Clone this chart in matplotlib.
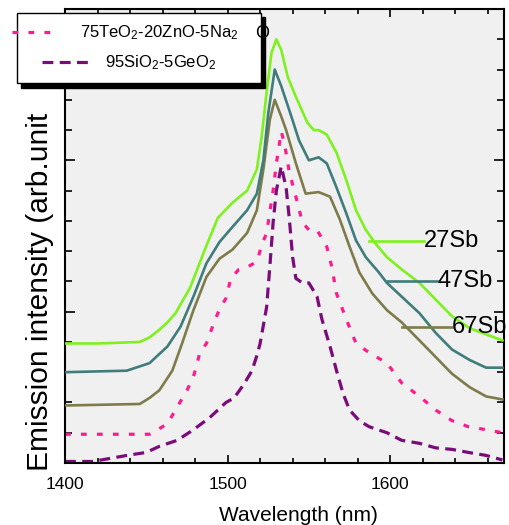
import matplotlib
matplotlib.use("Agg")
import matplotlib.pyplot as plt
from matplotlib.patches import Rectangle
from matplotlib.lines import Line2D
from matplotlib.ticker import MultipleLocator, NullFormatter

plt.rcParams['font.family'] = ['Liberation Sans', 'DejaVu Sans']
plt.rcParams['mathtext.fontset'] = 'custom'
plt.rcParams['mathtext.rm'] = 'Liberation Sans'
plt.rcParams['mathtext.it'] = 'Liberation Sans:italic'
plt.rcParams['mathtext.bf'] = 'Liberation Sans:bold'

# ---------------- data ----------------
wl_27 = [1400, 1421, 1446, 1452, 1458, 1463, 1468, 1477, 1486, 1494, 1503, 1512, 1518, 1521,
         1524, 1527, 1530, 1533, 1537, 1542, 1549, 1553, 1556, 1561, 1567, 1573, 1579, 1585,
         1591, 1598, 1607, 1618, 1628, 1638, 1649, 1659, 1669]
int_27 = [0.79, 0.79, 0.80, 0.83, 0.88, 0.93, 0.99, 1.16, 1.41, 1.62, 1.72, 1.80, 1.94, 2.16,
          2.45, 2.71, 2.80, 2.73, 2.55, 2.42, 2.25, 2.20, 2.20, 2.17, 2.05, 1.87, 1.67, 1.54,
          1.45, 1.36, 1.28, 1.19, 1.08, 0.97, 0.89, 0.85, 0.81]

wl_47 = [1400, 1438, 1452, 1463, 1471, 1479, 1487, 1495, 1503, 1512, 1518, 1522, 1525, 1529,
         1533, 1538, 1544, 1550, 1556, 1561, 1567, 1573, 1579, 1585, 1593, 1598, 1607, 1618,
         1628, 1638, 1649, 1659, 1669]
int_47 = [0.60, 0.61, 0.66, 0.77, 0.90, 1.10, 1.32, 1.46, 1.56, 1.67, 1.78, 2.00, 2.31, 2.60,
          2.49, 2.33, 2.13, 2.00, 2.02, 1.98, 1.82, 1.65, 1.47, 1.36, 1.26, 1.19, 1.10, 0.99,
          0.86, 0.75, 0.68, 0.63, 0.63]

wl_67 = [1400, 1446, 1452, 1458, 1466, 1472, 1479, 1487, 1495, 1503, 1512, 1518, 1522, 1526,
         1529, 1533, 1536, 1542, 1548, 1556, 1563, 1569, 1575, 1581, 1589, 1598, 1607, 1618,
         1628, 1638, 1649, 1659, 1669]
int_67 = [0.38, 0.39, 0.43, 0.48, 0.61, 0.79, 1.01, 1.23, 1.35, 1.41, 1.52, 1.67, 1.94, 2.27,
          2.40, 2.29, 2.20, 1.98, 1.78, 1.79, 1.76, 1.61, 1.43, 1.26, 1.12, 1.01, 0.93, 0.81,
          0.70, 0.59, 0.50, 0.44, 0.42]

wl_te = [1400, 1452, 1454, 1463, 1469, 1475, 1479, 1483, 1487, 1490, 1494, 1499, 1502, 1507,
         1513, 1518, 1521, 1524, 1528, 1530, 1533, 1535, 1538, 1542, 1546, 1550, 1555, 1561,
         1564, 1567, 1573, 1579, 1587, 1598, 1607, 1618, 1628, 1638, 1648, 1659, 1669]
int_te = [0.19, 0.19, 0.20, 0.26, 0.37, 0.48, 0.57, 0.73, 0.79, 0.88, 0.99, 1.09, 1.22, 1.28,
          1.30, 1.33, 1.44, 1.52, 1.80, 1.98, 2.19, 2.11, 1.92, 1.76, 1.59, 1.54, 1.54, 1.43,
          1.30, 1.12, 0.95, 0.79, 0.73, 0.66, 0.53, 0.44, 0.35, 0.28, 0.24, 0.22, 0.20]

wl_si = [1400, 1417, 1438, 1450, 1458, 1469, 1479, 1489, 1499, 1504, 1510, 1515, 1518, 1520,
         1524, 1526, 1528, 1530, 1533, 1536, 1538, 1540, 1542, 1546, 1550, 1555, 1558, 1563,
         1567, 1571, 1575, 1581, 1587, 1598, 1607, 1618, 1628, 1638, 1648, 1659, 1669]
int_si = [0.01, 0.01, 0.05, 0.07, 0.11, 0.15, 0.22, 0.30, 0.40, 0.43, 0.52, 0.61, 0.71, 0.79,
          1.03, 1.30, 1.59, 1.80, 1.96, 1.82, 1.61, 1.36, 1.22, 1.19, 1.19, 1.10, 0.95, 0.77,
          0.61, 0.46, 0.35, 0.28, 0.24, 0.20, 0.15, 0.13, 0.10, 0.09, 0.07, 0.05, 0.02]

sb_labels = ["27Sb", "47Sb", "67Sb"]
sb_label_start = [1587, 1598, 1607]
sb_label_end = [1621, 1629, 1638]
sb_label_y = [1.47, 1.20, 0.90]

legend_labels = ["75TeO$_2$-20ZnO-5Na$_2$", "95SiO$_2$-5GeO$_2$"]
xticks = [1400, 1500, 1600]

# ---------------- styling ----------------
c27, c47, c67 = '#7df21c', '#3f7c7c', '#7e7b4b'
cte, csi = '#ff1b8d', '#7b0b7b'

W, H = 510, 525
fig = plt.figure(figsize=(W / 100, H / 100), dpi=100)
fig.patch.set_facecolor('white')

def fx(px):
    return px / W

def fy(py):
    return 1 - py / H

ax = fig.add_axes([fx(65), fy(463), fx(504) - fx(65), fy(9) - fy(463)])
ax.set_facecolor('#f0f0f0')

lw = 1.9
ax.plot(wl_27, int_27, color=c27, lw=lw, zorder=5)
ax.plot(wl_47, int_47, color=c47, lw=lw, zorder=4)
ax.plot(wl_67, int_67, color=c67, lw=lw, zorder=3)
ax.plot(wl_te, int_te, color=cte, lw=2.3, dashes=(1.8, 3.2), zorder=2)
ax.plot(wl_si, int_si, color=csi, lw=2.3, dashes=(3.4, 2.0), zorder=2)

for name, x0, x1, yv, col in zip(sb_labels, sb_label_start, sb_label_end, sb_label_y,
                                 [c27, c47, c67]):
    ax.plot([x0, x1], [yv, yv], color=col, lw=lw, zorder=6)
    ax.text(x1, yv, name, fontsize=17, ha='left', va='center', color='black',
            zorder=7, clip_on=False)

ax.set_xlim(1400, 1670)
ax.set_ylim(0, 3)
ax.set_xticks(xticks)
ax.xaxis.set_minor_locator(MultipleLocator(20))
ax.yaxis.set_major_locator(MultipleLocator(1))
ax.yaxis.set_minor_locator(MultipleLocator(0.2))
ax.yaxis.set_major_formatter(NullFormatter())
ax.tick_params(axis='both', which='both', direction='in', top=True, right=True,
               width=1.2, color='black')
ax.tick_params(axis='x', which='major', length=6, labelsize=12.5, pad=10)
ax.tick_params(axis='x', which='minor', length=3.5)
ax.tick_params(axis='y', which='major', length=7.5)
ax.tick_params(axis='y', which='minor', length=5)
for s in ax.spines.values():
    s.set_linewidth(1.5)

ax.set_xlabel("Wavelength (nm)", fontsize=15)
ax.xaxis.set_label_coords((298 - 65) / 439, (463 - 506) / 454)

fig.text(fx(40), fy(471), "Emission intensity (arb.unit", rotation=90,
         ha='center', va='bottom', fontsize=21.5, zorder=1)

# ---------------- manual legend ----------------
shadow = Rectangle((fx(21), fy(88)), fx(265) - fx(21), fy(17) - fy(88),
                   transform=fig.transFigure, facecolor='black', edgecolor='black',
                   zorder=10)
box = Rectangle((fx(17), fy(83)), fx(261) - fx(17), fy(13) - fy(83),
                transform=fig.transFigure, facecolor='white', edgecolor='black',
                linewidth=1.0, zorder=11)
fig.add_artist(shadow)
fig.add_artist(box)
fig.add_artist(Line2D([fx(12), fx(54)], [fy(32), fy(32)], transform=fig.transFigure,
                      color=cte, lw=2.3, dashes=(1.8, 3.2), zorder=12))
fig.add_artist(Line2D([fx(42), fx(88)], [fy(62), fy(62)], transform=fig.transFigure,
                      color=csi, lw=2.3, dashes=(3.4, 2.0), zorder=12))
fig.text(fx(80), fy(33), legend_labels[0], fontsize=12, ha='left', va='center', zorder=13)
fig.text(fx(255), fy(33), "O", fontsize=13, ha='left', va='center', zorder=13)
fig.text(fx(105), fy(63), legend_labels[1], fontsize=12, ha='left', va='center', zorder=13)

fig.savefig("out.png", dpi=100, facecolor='white')
